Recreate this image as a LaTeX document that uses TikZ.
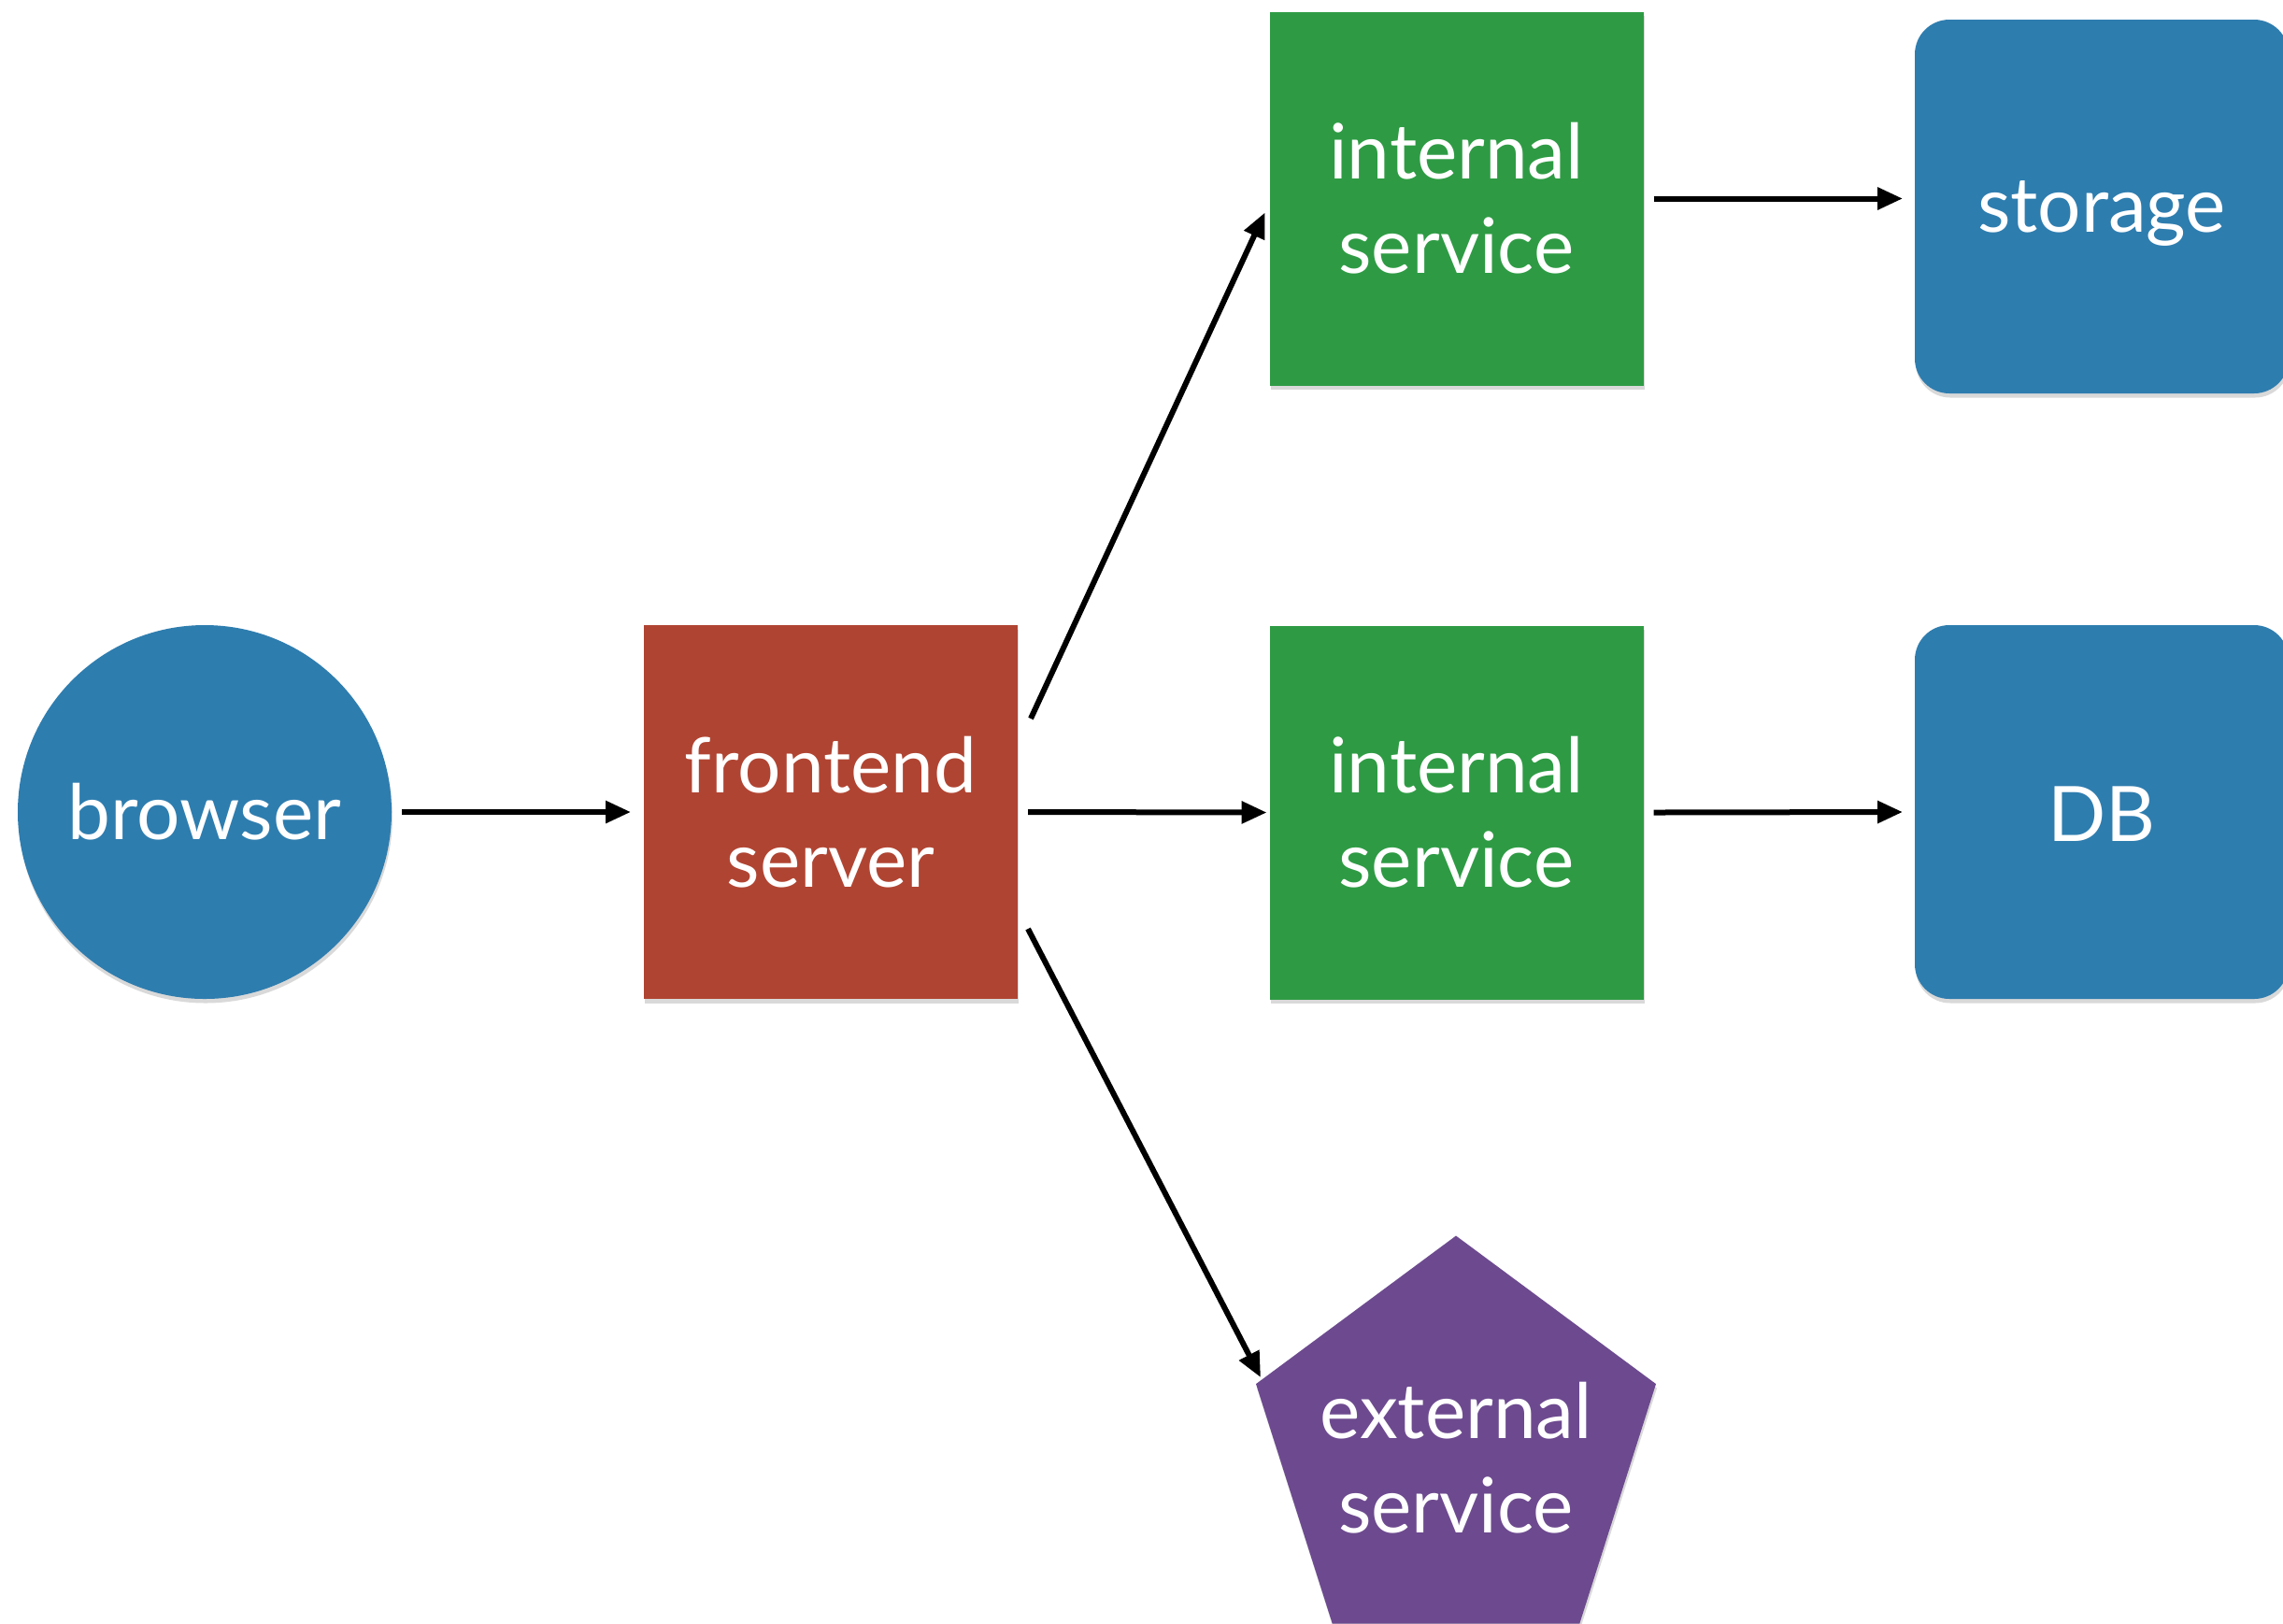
\documentclass[tikz,border=0pt]{standalone}
\usepackage{fontspec}
\setmainfont{Lato}
\usetikzlibrary{arrows.meta,shapes.geometric,shadows,calc}
\definecolor{cblue}{HTML}{2E7DAF}
\definecolor{cred}{HTML}{B04432}
\definecolor{cgreen}{HTML}{2E9B44}
\definecolor{cpurple}{HTML}{6D4A8F}
\tikzset{
  labeltext/.style={text=white, align=center, font=\fontsize{23.3}{28.7}\selectfont},
  shape base/.style={draw=none, labeltext, inner sep=0pt, outer sep=0pt,
    drop shadow={shadow xshift=0.01cm, shadow yshift=-0.045cm, opacity=0.15, fill=black}},
  sqbox/.style={shape base, rectangle, minimum width=4cm, minimum height=4cm},
  rbox/.style={sqbox, rounded corners=0.37cm, fill=cblue},
  conn/.style={line width=0.06cm, -{Triangle[length=0.27cm,width=0.23cm]}}
}
\begin{document}
\begin{tikzpicture}
\useasboundingbox[fill=white] (0,0) rectangle (24.43,-17.37);
\node[shape base, circle, minimum size=4cm, fill=cblue] (browser) at (2.19,-8.69) {browser};
\node[sqbox, fill=cred] (front) at (8.89,-8.69) {frontend\\server};
\node[sqbox, fill=cgreen] (itop) at (15.585,-2.125) {internal\\service};
\node[sqbox, fill=cgreen] (imid) at (15.585,-8.695) {internal\\service};
\node[rbox] (storage) at (24.49,-2.21) [anchor=east] {};
\node[rbox] (db) at (24.49,-8.69) [anchor=east] {};
\node[labeltext] (storagetxt) at ([yshift=-0.07cm]storage.center) {storage};
\node[labeltext] (dbtxt) at ([yshift=-0.02cm]db.center) {DB};
\node[shape base, regular polygon, regular polygon sides=5, minimum size=4.5cm, yscale=1.02, fill=cpurple] (ext) at (15.58,-15.52) {};
\node[labeltext] (exttxt) at ([yshift=-0.08cm]ext.center) {external\\service};

\draw[conn, shorten <=0.11cm, shorten >=0.14cm] (browser) -- (front);
\draw[conn] ([xshift=0.11cm]front.east) -- ([xshift=-0.03cm]imid.west);
\draw[conn] ([xshift=0.11cm]itop.east) -- ($(storage.west |- itop.east)+(-0.13,0)$);
\draw[conn] ([xshift=0.11cm]imid.east) -- ([xshift=-0.13cm]db.west);
\draw[conn] ([xshift=0.14cm,yshift=1.0cm]front.east) -- ([xshift=-0.05cm,yshift=-0.15cm]itop.west);
\draw[conn] ([xshift=0.11cm,yshift=-1.25cm]front.east) -- ([xshift=0.05cm,yshift=0.07cm]ext.corner 2);
\end{tikzpicture}
\end{document}
